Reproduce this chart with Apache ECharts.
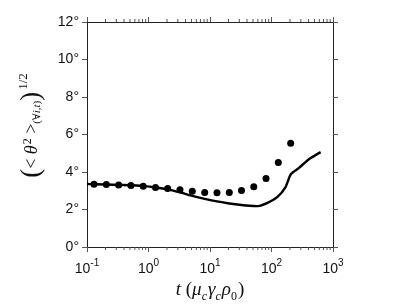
<!DOCTYPE html>
<html>
<head>
<meta charset="utf-8">
<script src="https://cdn.jsdelivr.net/npm/echarts@6/dist/echarts.min.js"></script>
<style>html,body{margin:0;padding:0;background:#fff;}#c{width:407px;height:305px;}</style>
</head>
<body>
<div id="c"></div>
<script>
// Scatter points (dots)
var dotT = [0.13, 0.206, 0.327, 0.518, 0.82, 1.3, 2.05, 3.25, 5.15, 8.2, 13, 20.6, 32.5, 51.5, 81.5, 129, 205];
var dotV = [3.35, 3.34, 3.31, 3.28, 3.24, 3.17, 3.12, 3.05, 2.98, 2.91, 2.89, 2.91, 3.01, 3.21, 3.66, 4.51, 5.53];
// Solid line
var lineT = [0.1, 0.13, 0.33, 0.83, 1.3, 2.05, 3.25, 5.15, 8.2, 13, 20.6, 32.5, 51.5, 60, 86, 125, 170, 205, 280, 410, 630];
var lineV = [3.36, 3.35, 3.31, 3.26, 3.17, 3.07, 2.91, 2.73, 2.57, 2.43, 2.32, 2.24, 2.19, 2.18, 2.35, 2.67, 3.21, 3.87, 4.22, 4.69, 5.06];
// Axis ticks
var yTicks = [0, 2, 4, 6, 8, 10, 12];
var xMinorTicks = [0.2,0.3,0.4,0.5,0.6,0.7,0.8,0.9, 2,3,4,5,6,7,8,9, 20,30,40,50,60,70,80,90, 200,300,400,500,600,700,800,900];

var chart = echarts.init(document.getElementById('c'), null, {renderer: 'canvas'});
var tickColor = '#555';
var lineColor = '#222';
var txt = '#111';
var sans = '"Liberation Sans", Arial, sans-serif';
var serif = '"Liberation Serif", "DejaVu Serif", serif';

function pairs(a, b) { return a.map(function (v, i) { return [v, b[i]]; }); }

function minorTickSeries(axisIdx, yVal, dir) {
  return {
    type: 'custom', xAxisIndex: axisIdx, yAxisIndex: 0, silent: true, clip: false, z: 5,
    data: xMinorTicks.map(function (v) { return [v, yVal]; }),
    encode: {x: 0, y: 1},
    renderItem: function (params, api) {
      var p = api.coord([api.value(0), yVal]);
      return {type: 'line', shape: {x1: p[0], y1: p[1], x2: p[0], y2: p[1] + dir * 3},
              style: {stroke: tickColor, lineWidth: 1}};
    }
  };
}

var option = {
  animation: false,
  backgroundColor: '#fff',
  grid: {left: 87, top: 22, width: 246, height: 225, containLabel: false, outerBoundsMode: 'none'},
  xAxis: [{
    type: 'log', logBase: 10, min: 0.1, max: 1000, position: 'bottom',
    axisLine: {show: true, onZero: false, lineStyle: {color: lineColor, width: 1}},
    axisTick: {show: true, inside: false, length: 5, lineStyle: {color: tickColor}},
    splitLine: {show: false},
    axisLabel: {
      margin: 11,
      formatter: function (v) {
        var e = Math.round(Math.log(v) / Math.LN10);
        return '{b|10}{s|' + e + '}';
      },
      rich: {
        b: {fontFamily: sans, fontSize: 14, color: txt, lineHeight: 18, verticalAlign: 'bottom'},
        s: {fontFamily: sans, fontSize: 10, color: txt, lineHeight: 18, verticalAlign: 'top'}
      }
    },
    name: '{i|t}{n| (}{i|μ}{sb|c}{i|γ}{sb|c}{i|ρ}{sn|0}{n|)}',
    nameLocation: 'middle', nameGap: 31,
    nameTextStyle: {
      rich: {
        i: {fontFamily: serif, fontStyle: 'italic', fontSize: 19, color: txt, lineHeight: 22, verticalAlign: 'top'},
        n: {fontFamily: serif, fontSize: 19, color: txt, lineHeight: 22, verticalAlign: 'top'},
        sb: {fontFamily: serif, fontStyle: 'italic', fontSize: 12, color: txt, lineHeight: 14, verticalAlign: 'bottom', padding: [0, 1, 0, 0]},
        sn: {fontFamily: serif, fontSize: 12, color: txt, lineHeight: 14, verticalAlign: 'bottom', padding: [0, 1, 0, 0]}
      }
    }
  }, {
    type: 'log', logBase: 10, min: 0.1, max: 1000, position: 'top',
    axisLine: {show: true, onZero: false, lineStyle: {color: lineColor, width: 1}},
    axisTick: {show: true, inside: false, length: 5, lineStyle: {color: tickColor}},
    splitLine: {show: false},
    axisLabel: {show: false}
  }],
  yAxis: [{
    type: 'value', min: 0, max: 12, interval: 2, position: 'left',
    axisLine: {show: true, onZero: false, lineStyle: {color: lineColor, width: 1}},
    axisTick: {show: true, inside: false, length: 5, lineStyle: {color: tickColor}},
    splitLine: {show: false},
    axisLabel: {formatter: '{value}°', fontFamily: sans, fontSize: 14, color: txt, margin: 8},
    name: '{p|(}{n|< }{i|θ}{sp|2}{n| >}{sb|(∀}{si|i,t}{sb|)}{p|)}{s2|1/2}',
    nameLocation: 'middle', nameGap: 32, nameRotate: 90,
    nameTextStyle: {
      padding: [0, 0, 0, 18],
      rich: {
        p: {fontFamily: serif, fontSize: 27, color: txt, lineHeight: 30},
        n: {fontFamily: serif, fontSize: 18, color: txt, lineHeight: 30},
        i: {fontFamily: serif, fontStyle: 'italic', fontSize: 18, color: txt, lineHeight: 30},
        sp: {fontFamily: serif, fontSize: 12, color: txt, lineHeight: 12, verticalAlign: 'top', padding: [5, 0, 0, 1]},
        sb: {fontFamily: serif, fontSize: 11, color: txt, lineHeight: 12, verticalAlign: 'bottom', padding: [0, 0, 4, 0]},
        si: {fontFamily: serif, fontStyle: 'italic', fontSize: 11, color: txt, lineHeight: 12, verticalAlign: 'bottom', padding: [0, 0, 4, 0]},
        s2: {fontFamily: serif, fontSize: 13, color: txt, lineHeight: 13, verticalAlign: 'top', padding: [0, 0, 0, 2]}
      }
    }
  }, {
    type: 'value', min: 0, max: 12, interval: 2, position: 'right',
    axisLine: {show: true, onZero: false, lineStyle: {color: lineColor, width: 1}},
    axisTick: {show: true, inside: false, length: 5, lineStyle: {color: tickColor}},
    splitLine: {show: false},
    axisLabel: {show: false}
  }],
  series: [{
    type: 'line', xAxisIndex: 0, yAxisIndex: 0,
    data: pairs(lineT, lineV),
    showSymbol: false, symbol: 'none', smooth: 0.2,
    lineStyle: {color: '#000', width: 2.4}
  }, {
    type: 'scatter', xAxisIndex: 0, yAxisIndex: 0,
    data: pairs(dotT, dotV),
    symbol: 'circle', symbolSize: 7,
    itemStyle: {color: '#000', opacity: 1}
  },
  minorTickSeries(0, 0, 1),
  minorTickSeries(1, 12, -1)
  ]
};
chart.setOption(option);
</script>
</body>
</html>
